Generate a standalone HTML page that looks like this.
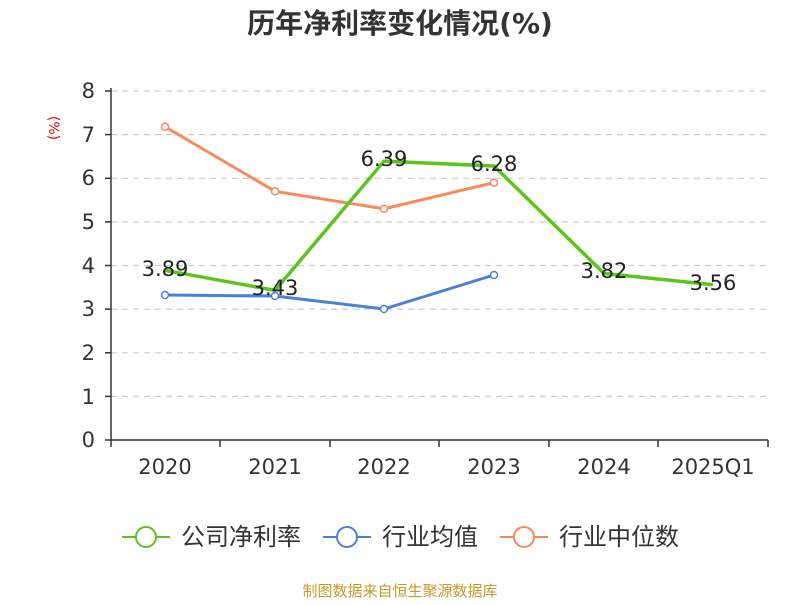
<!DOCTYPE html>
<html><head><meta charset="utf-8"><style>
body{margin:0;background:#fff;}
svg text{font-family:"DejaVu Sans","Noto Sans CJK SC",sans-serif;}
</style></head><body>
<svg width="800" height="600" viewBox="0 0 800 600" xmlns="http://www.w3.org/2000/svg">
<text x="400" y="33" text-anchor="middle" font-size="28" font-weight="bold" fill="#333">历年净利率变化情况(%)</text>
<text x="49" y="128" font-size="14" fill="#e00" transform="rotate(90 49 128)" text-anchor="middle">(%)</text>
<g stroke="#ccc" stroke-dasharray="6,5" stroke-width="1.2">
<line x1="111" y1="91" x2="768" y2="91"/><line x1="111" y1="134.6" x2="768" y2="134.6"/>
<line x1="111" y1="178.3" x2="768" y2="178.3"/><line x1="111" y1="221.9" x2="768" y2="221.9"/>
<line x1="111" y1="265.5" x2="768" y2="265.5"/><line x1="111" y1="309.1" x2="768" y2="309.1"/>
<line x1="111" y1="352.8" x2="768" y2="352.8"/><line x1="111" y1="396.4" x2="768" y2="396.4"/>
</g>
<g stroke="#333" stroke-width="1.5">
<line x1="111" y1="88" x2="111" y2="440"/><line x1="111" y1="440" x2="768" y2="440"/>
<line x1="105" y1="91" x2="111" y2="91"/><line x1="105" y1="134.6" x2="111" y2="134.6"/><line x1="105" y1="178.3" x2="111" y2="178.3"/><line x1="105" y1="221.9" x2="111" y2="221.9"/><line x1="105" y1="265.5" x2="111" y2="265.5"/><line x1="105" y1="309.1" x2="111" y2="309.1"/><line x1="105" y1="352.8" x2="111" y2="352.8"/><line x1="105" y1="396.4" x2="111" y2="396.4"/><line x1="105" y1="440" x2="111" y2="440"/>
<line x1="111" y1="440" x2="111" y2="447"/><line x1="220" y1="440" x2="220" y2="447"/><line x1="330" y1="440" x2="330" y2="447"/><line x1="439" y1="440" x2="439" y2="447"/><line x1="549" y1="440" x2="549" y2="447"/><line x1="658" y1="440" x2="658" y2="447"/><line x1="768" y1="440" x2="768" y2="447"/>
</g>
<g font-size="21" fill="#333" text-anchor="end">
<text x="95" y="98">8</text><text x="95" y="142">7</text><text x="95" y="185">6</text><text x="95" y="229">5</text><text x="95" y="273">4</text><text x="95" y="316">3</text><text x="95" y="360">2</text><text x="95" y="404">1</text><text x="95" y="447">0</text>
</g>
<g font-size="21" fill="#333" text-anchor="middle">
<text x="165" y="474">2020</text><text x="275" y="474">2021</text><text x="384" y="474">2022</text><text x="494" y="474">2023</text><text x="604" y="474">2024</text><text x="713" y="474">2025Q1</text>
</g>
<polyline fill="none" stroke="#f58b5a" stroke-width="3" points="165,126.8 275,191.3 384,208.8 494,182.6"/>
<polyline fill="none" stroke="#4a7fdc" stroke-width="3" points="165,295 275,296 384,309 494,275"/>
<polyline fill="none" stroke="#5bc41d" stroke-width="3.5" points="165,270.3 275,290.4 384,161.2 494,166 604,273.4 713,284.7"/>
<g fill="#fff" stroke-width="1.5">
<g stroke="#f58b5a"><circle cx="165" cy="126.8" r="3.5"/><circle cx="275" cy="191.3" r="3.5"/><circle cx="384" cy="208.8" r="3.5"/><circle cx="494" cy="182.6" r="3.5"/></g>
<g stroke="#4a7fdc"><circle cx="165" cy="295" r="3.5"/><circle cx="275" cy="296" r="3.5"/><circle cx="384" cy="309" r="3.5"/><circle cx="494" cy="275" r="3.5"/></g>
</g>
<g font-size="21" fill="#222" text-anchor="middle">
<text x="165" y="276">3.89</text><text x="275" y="295">3.43</text><text x="384" y="166">6.39</text><text x="494" y="171">6.28</text><text x="604" y="278">3.82</text><text x="713" y="290">3.56</text>
</g>
<g stroke-width="2" fill="#fff">
<line x1="122" y1="537" x2="170" y2="537" stroke="#5bc41d"/><circle cx="146" cy="537" r="10" stroke="#5bc41d"/>
<line x1="323" y1="537" x2="371" y2="537" stroke="#4a7fdc"/><circle cx="347" cy="537" r="10" stroke="#4a7fdc"/>
<line x1="500" y1="537" x2="548" y2="537" stroke="#f58b5a"/><circle cx="524" cy="537" r="10" stroke="#f58b5a"/>
</g>
<g font-size="24" fill="#333">
<text x="181" y="545">公司净利率</text><text x="382" y="545">行业均值</text><text x="559" y="545">行业中位数</text>
</g>
<text x="400" y="596" text-anchor="middle" font-size="15" fill="#c89a2a">制图数据来自恒生聚源数据库</text>
</svg>
</body></html>
